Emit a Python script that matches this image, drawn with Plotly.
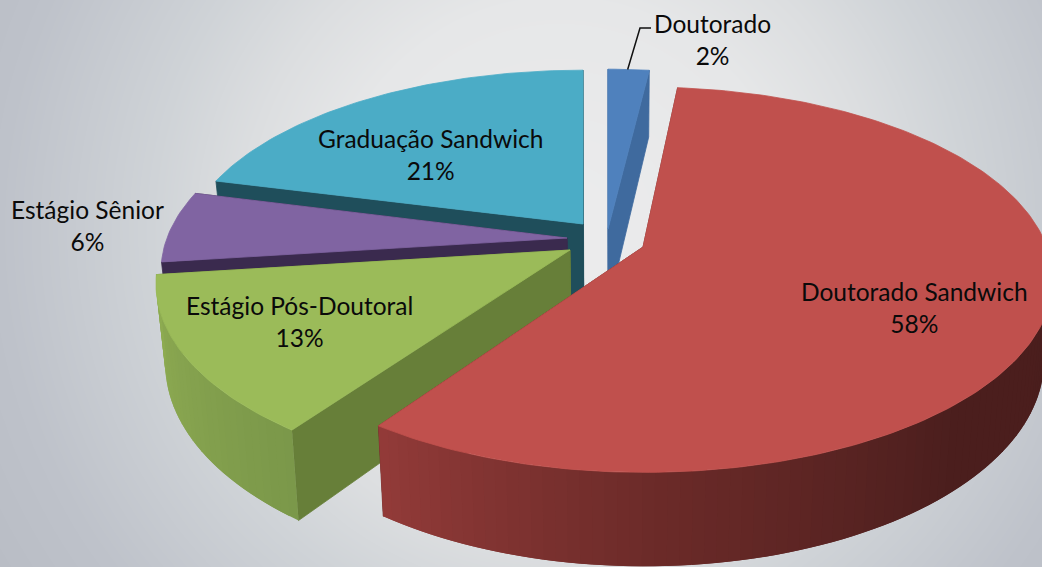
import numpy as np
import plotly.graph_objects as go

# ---- data ----
categories = ["Doutorado", "Doutorado Sandwich", "Estágio Pós-Doutoral", "Estágio Sênior", "Graduação Sandwich"]
values = [2, 58, 13, 6, 21]

# ---- styling / layout ----
W, H = 1042, 567
top_colors = {"Doutorado": "#4F81BD", "Doutorado Sandwich": "#C0504D", "Estágio Pós-Doutoral": "#9BBB59",
              "Estágio Sênior": "#8064A2", "Graduação Sandwich": "#4BACC6"}
cut_colors = {"Doutorado": "#3F6A9E", "Doutorado Sandwich": "#6F2C2A", "Estágio Pós-Doutoral": "#677F39",
              "Estágio Sênior": "#3A2A4E", "Graduação Sandwich": "#1F4E5B"}
apex = {"Doutorado": (608, 229), "Doutorado Sandwich": (643, 247), "Estágio Pós-Doutoral": (570, 250),
        "Estágio Sênior": (567, 238), "Graduação Sandwich": (583, 224)}
shape_abcd = {"Doutorado": (385, 0, 0, 187), "Doutorado Sandwich": (402, 10, -5, 187),
              "Estágio Pós-Doutoral": (408, 0, 0, 192), "Estágio Sênior": (400, 0, 0, 187),
              "Graduação Sandwich": (395, 0, 0, 180)}
label_pos = {"Doutorado": (712, 39.5), "Doutorado Sandwich": (914, 307.5), "Estágio Pós-Doutoral": (299, 321.5),
             "Estágio Sênior": (87, 225.5), "Graduação Sandwich": (430, 154.5)}
draw_order = ["Graduação Sandwich", "Estágio Sênior", "Estágio Pós-Doutoral", "Doutorado", "Doutorado Sandwich"]
wall_shades = {"Doutorado Sandwich": [(90, "#4A1E1D"), (140, "#4C1F1E"), (180, "#6C2B29"), (216, "#933B39")],
               "Estágio Pós-Doutoral": [(216, "#7B984A"), (240, "#86A34F"), (262.8, "#8FAD52")]}
K = 0.17
DEPTH = 78.0
CONVERGE = 0.02


def project(name, deg, r=1.0, z=0.0):
    t = np.radians(deg)
    X, Y = r * np.sin(t), -r * np.cos(t)
    w = 1 - K * Y
    ax, ay = apex[name]
    a, b, c, d = shape_abcd[name]
    x = ax + (a * X + b * Y) / w
    return x + z * CONVERGE * (620 - x), ay + (c * X + d * Y) / w + z * DEPTH / w


def rgb(h):
    return np.array([int(h[i:i + 2], 16) for i in (1, 3, 5)], float)


def shade(stops, deg):
    angs = [s[0] for s in stops]
    cols = np.array([rgb(s[1]) for s in stops])
    c = [np.interp(deg, angs, cols[:, i]) for i in range(3)]
    return "rgb(%d,%d,%d)" % tuple(c)


def poly(fig, pts, color, lw=0.8):
    xs, ys = zip(*pts)
    fig.add_trace(go.Scatter(x=list(xs) + [xs[0]], y=list(ys) + [ys[0]], mode="lines", fill="toself",
                             fillcolor=color, line=dict(color=color, width=lw),
                             hoverinfo="skip", showlegend=False))


fig = go.Figure()

# soft radial background
gx = np.linspace(0, W, 53)
gy = np.linspace(0, H, 29)
GX, GY = np.meshgrid(gx, gy)
bg = np.hypot((GX - 560) / 560, (GY - 230) / 560)
TMAX = 1.2
bg_stops = [(0, "#ECECED"), (0.41, "#E6E7E8"), (0.57, "#DCDEE0"), (0.73, "#CFD3D7"), (1.0, "#BEC2CA"), (1.2, "#B8BCC4")]
fig.add_trace(go.Heatmap(x=gx, y=gy, z=bg, zmin=0, zmax=TMAX, zsmooth="best", showscale=False, hoverinfo="skip",
                         colorscale=[[t / TMAX, c] for t, c in bg_stops]))

# slices
angles = {}
a0 = 0.0
for c, v in zip(categories, values):
    angles[c] = (a0, a0 + 3.6 * v)
    a0 += 3.6 * v

for name in draw_order:
    s, e = angles[name]
    # radial cut faces
    for cut in (e, s):
        poly(fig, [project(name, cut, 0), project(name, cut, 1), project(name, cut, 1, 1), project(name, cut, 0, 1)],
             cut_colors[name])
    # outer curved wall, each strip overlapped by the following one
    if name in wall_shades:
        stops = wall_shades[name]
        lo, hi = max(s, stops[0][0]), min(e, stops[-1][0])
        edges = np.arange(lo, hi + 1.5, 1.5)
        edges[-1] = hi
        for a, b in zip(edges[:-1], edges[1:]):
            b2 = min(b + 1.5, hi)
            arc_a = np.linspace(a, b2, 4)
            pts = [project(name, q) for q in arc_a] + [project(name, q, 1, 1) for q in arc_a[::-1]]
            poly(fig, pts, shade(stops, (a + b) / 2), lw=0)
    # top face
    arc = [project(name, a) for a in np.linspace(s, e, max(4, int(e - s)))]
    poly(fig, [project(name, s, 0)] + arc, top_colors[name])

# leader line of the small slice
tip = project("Doutorado", 3.6)
fig.add_trace(go.Scatter(x=[651, 640, tip[0] - 1], y=[28, 28, tip[1]], mode="lines",
                         line=dict(color="#111111", width=1.5), hoverinfo="skip", showlegend=False))

for c, v in zip(categories, values):
    x, y = label_pos[c]
    fig.add_annotation(x=x, y=y, text=f"{c}<br>{v}%", showarrow=False, xanchor="center", yanchor="middle",
                       align="center", font=dict(family="Lato", size=24.5, color="#0A0A0A"))

fig.update_layout(width=W, height=H, margin=dict(l=0, r=0, t=0, b=0), plot_bgcolor="#E6E7E9",
                  paper_bgcolor="#E6E7E9", showlegend=False,
                  xaxis=dict(range=[0, W], visible=False, fixedrange=True),
                  yaxis=dict(range=[H, 0], visible=False, fixedrange=True))
fig.write_html("out.html", config={"displayModeBar": False},
               post_script="document.body.style.margin='0';document.body.style.overflow='hidden';")
